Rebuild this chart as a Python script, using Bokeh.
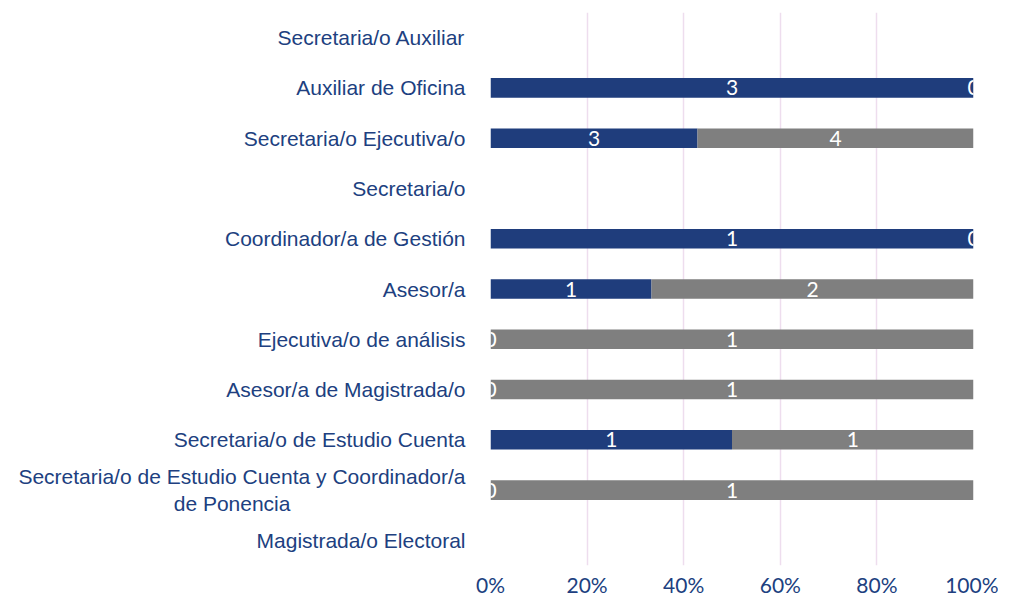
from bokeh.plotting import figure
from bokeh.models import ColumnDataSource, FactorRange, FixedTicker, NumeralTickFormatter
from bokeh.core.properties import value
from bokeh.embed import file_html
from bokeh.resources import INLINE

categories = [
    "Magistrada/o Electoral",
    "Secretaria/o de Estudio Cuenta y Coordinador/a\nde Ponencia" + "\u00a0" * 30,
    "Secretaria/o de Estudio Cuenta",
    "Asesor/a de Magistrada/o",
    "Ejecutiva/o de análisis",
    "Asesor/a",
    "Coordinador/a de Gestión",
    "Secretaria/o",
    "Secretaria/o Ejecutiva/o",
    "Auxiliar de Oficina",
    "Secretaria/o Auxiliar",
]
serie_azul = [0, 0, 1, 0, 0, 1, 1, 0, 3, 3, 0]
serie_gris = [0, 1, 1, 1, 1, 2, 0, 0, 4, 0, 0]
x_ticks = [0, 0.2, 0.4, 0.6, 0.8, 1.0]

BLUE = "#1F3D7C"
GRAY = "#7F7F7F"
TXT = "#203F80"

blue_end, gray_end, blue_mid, gray_mid = [], [], [], []
for b, g in zip(serie_azul, serie_gris):
    t = b + g
    fb = b / t if t else 0.0
    fg = 1.0 if t else 0.0
    blue_end.append(fb)
    gray_end.append(fg)
    blue_mid.append(fb / 2)
    gray_mid.append((fb + fg) / 2)

src = ColumnDataSource(dict(
    cat=categories, zero=[0.0] * len(categories),
    blue_end=blue_end, gray_end=gray_end,
    blue_mid=blue_mid, gray_mid=gray_mid,
    blue_lbl=[str(v) for v in serie_azul],
    gray_lbl=[str(v) for v in serie_gris],
))

p = figure(width=998, height=599, y_range=FactorRange(*categories), x_range=(0, 1),
           output_backend="svg", toolbar_location=None,
           min_border_left=490, min_border_right=25, min_border_top=12, min_border_bottom=23)
p.outline_line_color = None
p.background_fill_color = "white"

p.hbar(y="cat", left="zero", right="blue_end", height=0.39, source=src,
       fill_color=BLUE, line_color=None)
p.hbar(y="cat", left="blue_end", right="gray_end", height=0.39, source=src,
       fill_color=GRAY, line_color=None)

for xcol, lcol in (("blue_mid", "blue_lbl"), ("gray_mid", "gray_lbl")):
    p.text(x=xcol, y="cat", text=lcol, source=src, text_align="center",
           text_baseline="middle", text_color="white",
           text_font=value("Lato"), text_font_size="21px")

p.xgrid.ticker = FixedTicker(ticks=x_ticks)
p.xgrid.grid_line_color = "#EEDDEE"
p.xgrid.grid_line_width = 1.5
p.ygrid.grid_line_color = None

p.xaxis.ticker = FixedTicker(ticks=x_ticks)
p.xaxis.formatter = NumeralTickFormatter(format="0%")
p.xaxis.axis_line_color = None
p.xaxis.major_tick_line_color = None
p.xaxis.minor_tick_line_color = None
p.xaxis.major_label_text_font = "Lato"
p.xaxis.major_label_text_font_size = "21px"
p.xaxis.major_label_text_color = TXT
p.xaxis.major_label_standoff = 0

p.yaxis.axis_line_color = None
p.yaxis.major_tick_line_color = None
p.yaxis.major_label_text_font = "Liberation Sans"
p.yaxis.major_label_text_font_size = "21px"
p.yaxis.major_label_text_color = TXT
p.yaxis.major_label_standoff = 19

open("out.html", "w").write(file_html(p, INLINE))
